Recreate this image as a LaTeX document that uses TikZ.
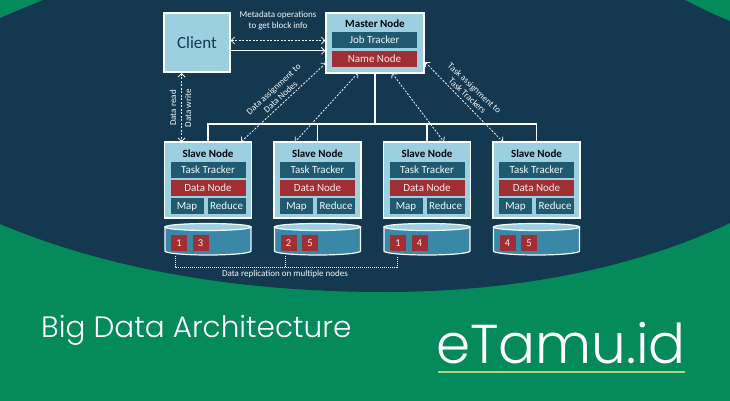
\documentclass[tikz,border=0pt]{standalone}
\usepackage{fontspec}
\setmainfont{Carlito}
\newfontfamily\logofont{Poppins}[UprightFont=* Light]
\usetikzlibrary{arrows.meta}
\definecolor{navy}{HTML}{14384F}
\definecolor{leaf}{HTML}{058A5B}
\definecolor{sky}{HTML}{9CCFE0}
\definecolor{teal}{HTML}{1F5A70}
\definecolor{brick}{HTML}{A02F33}
\definecolor{drum}{HTML}{3A87A8}
\definecolor{lime}{HTML}{A6D785}
\tikzstyle{box}=[draw=white, line width=1.2pt, fill=sky, inner sep=0pt, align=center]
\tikzstyle{title}=[font=\bfseries\fontsize{11}{12}\selectfont, text=black!85!navy, inner sep=0pt]
\tikzstyle{tracker}=[fill=teal, text=white!85!sky, inner sep=0pt, text height=9pt, text depth=2pt, font=\fontsize{11}{12}\selectfont]
\tikzstyle{data}=[fill=brick, text=white!90!brick, inner sep=0pt, text height=9pt, text depth=2pt, font=\fontsize{11}{12}\selectfont]
\tikzstyle{drumbody}=[draw=white!90!sky, line width=1.2pt, fill=drum]
\tikzstyle{drumtop}=[draw=white!90!sky, line width=1.2pt, fill=sky]
\tikzstyle{badge}=[fill=brick, text=white!90!brick, minimum size=16pt, inner sep=0pt, font=\fontsize{10.5}{11}\selectfont]
\tikzstyle{note}=[text=white!85!sky, inner sep=0pt, align=center, font=\fontsize{9}{10.5}\selectfont]
\tikzstyle{link}=[white!85!sky, line width=.8pt, <->, dash pattern=on 2pt off 1.5pt]
\tikzstyle{tree}=[white, line width=1.6pt]
\tikzstyle{repl}=[white, line width=1pt, dash pattern=on 1pt off 1pt]
% one slave block with its drum, x is the left edge
\newcommand{\slavenode}[4]{
  \node [box, minimum width=87pt, minimum height=76pt] (#1) at (#2+43.5,180) {};
  \node [title] (#1title) at (#2+43.5,154) {Slave Node};
  \node [tracker, minimum width=75pt, minimum height=16pt] (#1task) at (#2+43.5,170) {Task Tracker};
  \node [data, minimum width=75pt, minimum height=16pt] (#1data) at (#2+43.5,188) {Data Node};
  \node [tracker, minimum width=33pt, minimum height=16pt] (#1map) at (#2+22.5,206) {Map};
  \node [tracker, minimum width=38pt, minimum height=16pt] (#1reduce) at (#2+62,206) {Reduce};
  \node [minimum width=86pt, minimum height=28pt, inner sep=0pt, outer sep=0pt] (#1disk) at (#2+43.5,241) {};
  \draw [drumbody] (#1disk.north west) -- ([yshift=4pt]#1disk.south west) arc [start angle=180, end angle=360, x radius=43pt, y radius=4pt] -- (#1disk.north east) -- cycle;
  \draw [drumtop] ([xshift=43pt]#1disk.north west) ellipse [x radius=43pt, y radius=3.5pt];
  \node [badge] (#1a) at (#2+14.5,243) {#3};
  \node [badge] (#1b) at (#2+36,243) {#4};
}

\begin{document}
\begin{tikzpicture}[x=1pt,y=-1pt,>={Straight Barb[length=3.5pt,width=7pt]}]
\useasboundingbox (0,0) rectangle (730,401);
\fill [leaf] (0,0) rectangle (730,401);
\fill [navy] (43,0) -- (685,0) .. controls (700,8) and (715,15) .. (730,21) -- (730,223)
  .. controls (640,266) and (520,292) .. (385,292) .. controls (240,292) and (110,270) .. (0,224) -- (0,18) -- cycle;

\node [box, minimum width=66pt, minimum height=59pt, font=\fontsize{17}{18}\selectfont, text=navy] (client) at (197,42.5) {Client};
\node [box, minimum width=98pt, minimum height=60pt] (master) at (375,43) {};
\node [title] (mastertitle) at (375,24) {Master Node};
\node [tracker, minimum width=85pt, minimum height=16pt] (job) at (374.5,40.5) {Job Tracker};
\node [data, minimum width=85pt, minimum height=16pt] (name) at (374.5,59) {Name Node};

\slavenode{s1}{164.5}{1}{3}
\slavenode{s2}{274}{2}{5}
\slavenode{s3}{383.5}{1}{4}
\slavenode{s4}{493}{4}{5}

\coordinate (bus) at (375,124);
\draw [tree] (master.south) -- (bus);
\draw [tree] (s1.north) |- (bus) -| (s4.north);
\draw [tree] (s2.north) -- (s2.north |- bus);
\draw [tree] (s3.north) -- (s3.north |- bus);

\draw [link] (client.east |- job) -- (master.west |- job);
\draw [white!85!sky, line width=.8pt, ->] (client.east |- name.north) -- (master.west |- name.north);
\draw [link] (181.5,73) -- (181.5,142);
\draw [link] (326,63) -- (241,142);
\draw [link] (358,73) -- (295,142);
\draw [link] (392,73) -- (444,142);
\draw [link] (425,62) -- (503,142);

\draw [repl] (175,256) -- (175,267) -- (397,267) -- (397,256);
\draw [repl] (285,256) -- (285,267);

\node [note] (meta) at (278,20.5) {Metadata operations\\to get block info};
\node [note, rotate=90] (read) at (173,108) {Data read};
\node [note, rotate=90] (write) at (188,108) {Data write};
\node [note, rotate=43] (assign) at (277,93) {Data assignment to\\Data Nodes};
\node [note, rotate=-43] (taskassign) at (471,92) {Task assignment to\\Task Trackers};
\node [note] (repltext) at (285,274.5) {Data replication on multiple nodes};

\node [text=white, anchor=base west, inner sep=0pt, font=\logofont\fontsize{29.5}{32}\selectfont] (heading) at (41,337) {Big Data Architecture};
\node [text=white, anchor=base west, inner sep=0pt, font=\logofont\fontsize{54.8}{58}\selectfont] (logo) at (436,363) {eTamu.id};
\draw [lime, line width=2pt] (438,372) -- (685,372);
\end{tikzpicture}
\end{document}
